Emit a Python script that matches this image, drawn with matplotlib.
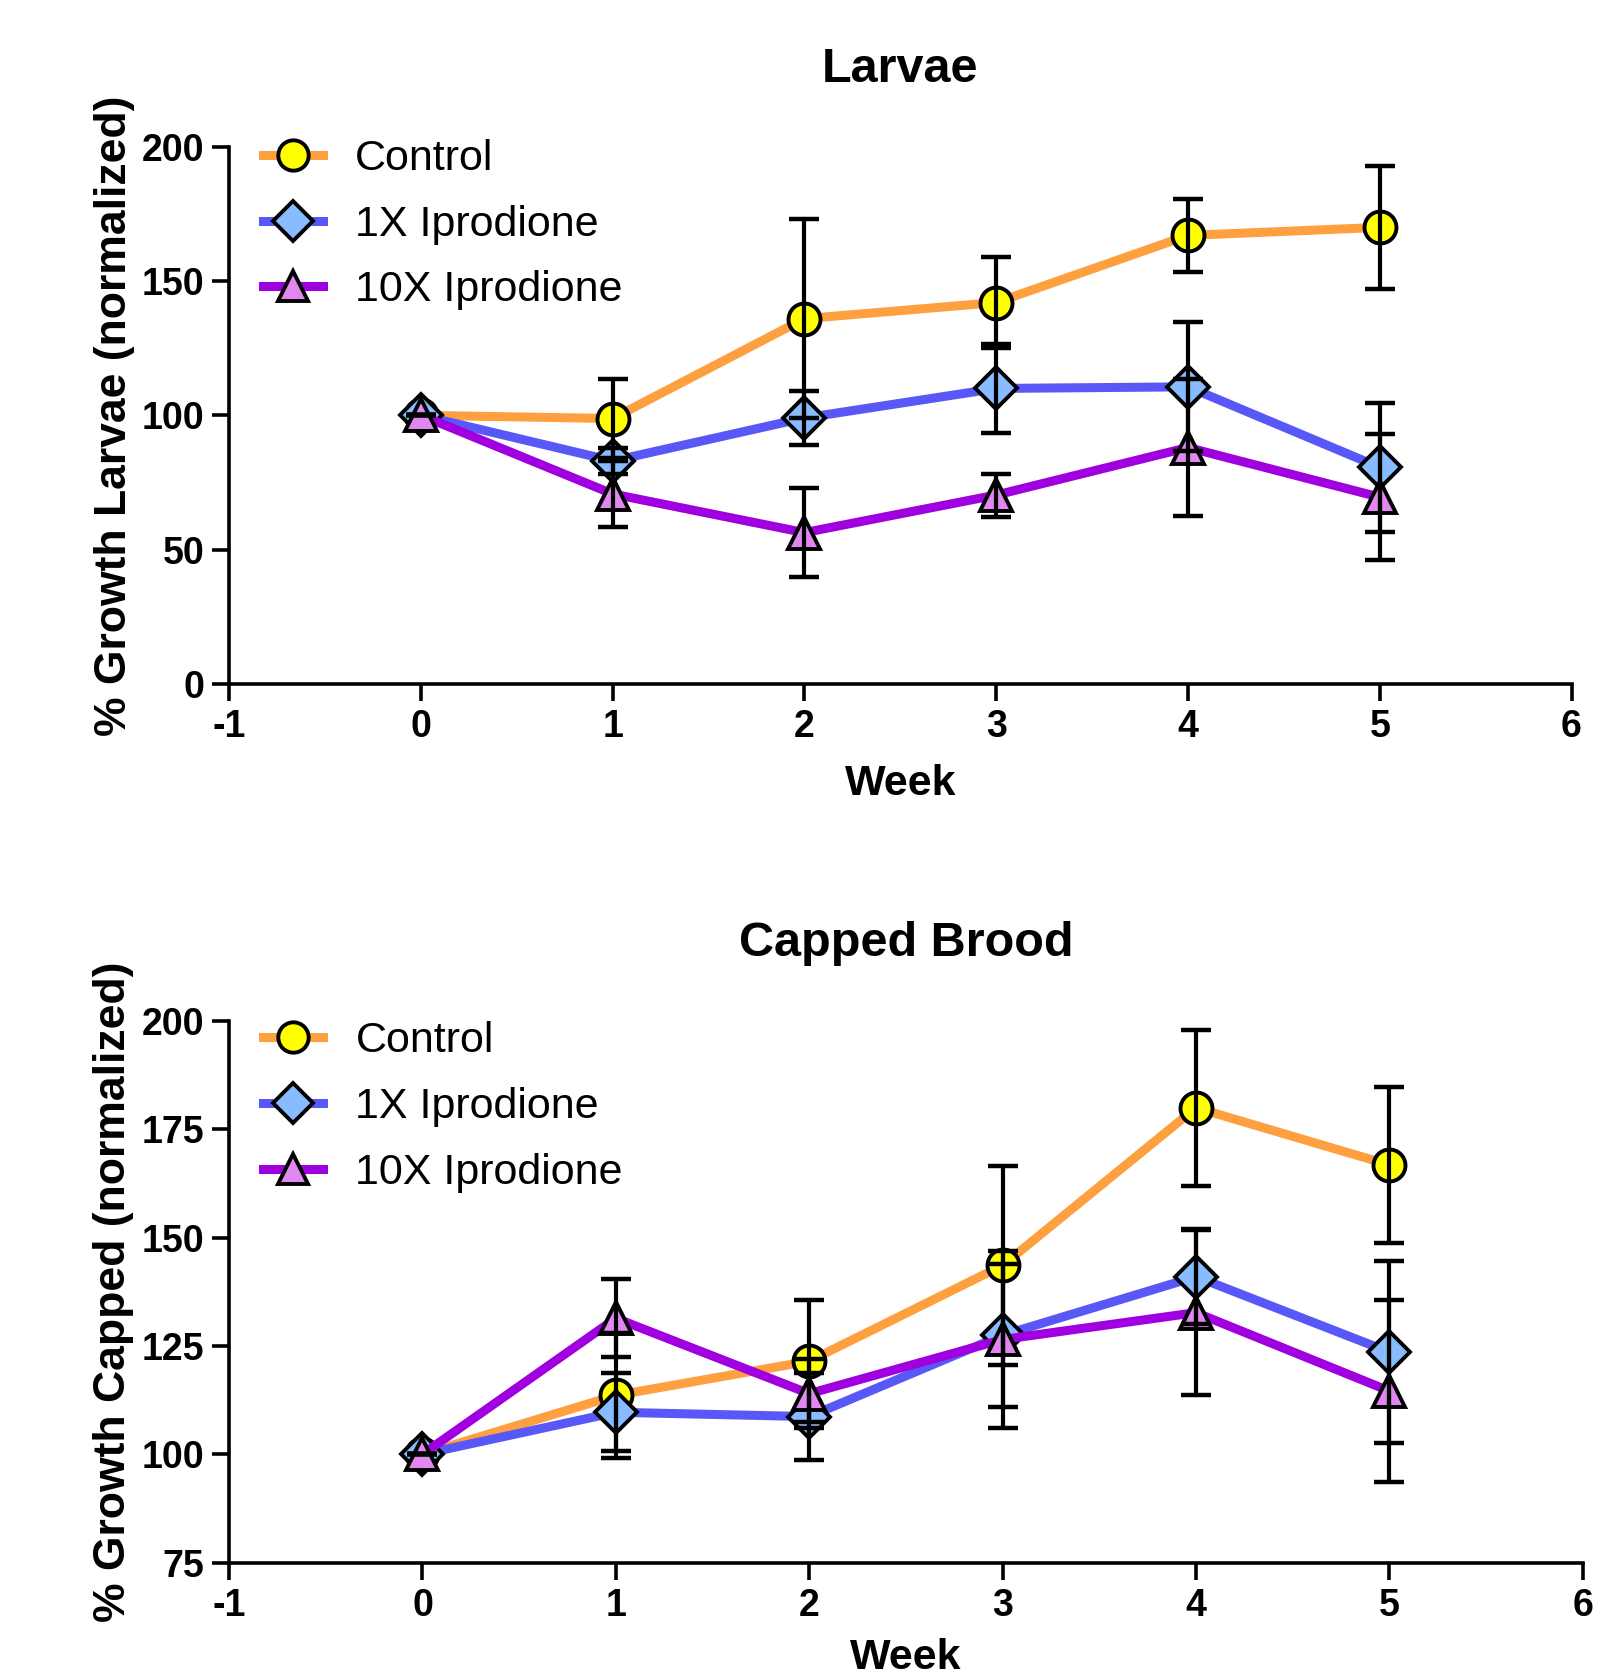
import numpy as np
import matplotlib
matplotlib.use("Agg")
import matplotlib.pyplot as plt

plt.rcParams['font.family'] = ['Liberation Sans', 'DejaVu Sans']
plt.rcParams['axes.unicode_minus'] = False

weeks = [0, 1, 2, 3, 4, 5]
series = ['Control', '1X Iprodione', '10X Iprodione']

# Larvae (% growth, normalized) and SEM
larvae_control = [100, 98.8, 136, 142, 167, 170]
larvae_control_err = [0, 14.6, 37, 17, 13.5, 23]
larvae_1x = [100, 83, 99, 110, 110.6, 80.6]
larvae_1x_err = [0, 5, 10.2, 16.5, 24, 24]
larvae_10x = [100, 70.7, 56.3, 70.3, 88, 69.5]
larvae_10x_err = [0, 12.4, 16.7, 8, 25.5, 23.5]

# Capped brood
capped_control = [100, 113.6, 121.5, 143.6, 180, 166.8]
capped_control_err = [0, 14.5, 14, 23, 18, 18]
capped_1x = [100, 109.7, 108.7, 127.5, 141, 123.6]
capped_1x_err = [0, 9, 10, 16.5, 11, 21]
capped_10x = [100, 131.4, 114, 126.5, 132.7, 114.6]
capped_10x_err = [0, 9, 8, 20.5, 19, 21]

line_colors = ['#FFA040', '#5858F8', '#A000E0']
face_colors = ['#FFFF00', '#88BBFF', '#E088F0']
markers = ['o', 'D', '^']
msizes = [23, 21, 23]

fig = plt.figure(figsize=(16.02, 16.8), dpi=100)
ax1 = fig.add_axes([0.143, 0.593, 0.838, 0.3196])
ax2 = fig.add_axes([0.143, 0.0699, 0.845, 0.3223])


def draw(ax, data, errs, title, ylabel, ylim, yticks, label_y, leg_y):
    handles = []
    for i, (vals, err) in enumerate(zip(data, errs)):
        h, = ax.plot(weeks, vals, color=line_colors[i], lw=6.5, marker=markers[i],
                     ms=msizes[i], mfc=face_colors[i], mec='black', mew=2.8,
                     zorder=3 + i, label=series[i])
        handles.append(h)
    for i, (vals, err) in enumerate(zip(data, errs)):
        ax.errorbar(weeks, vals, yerr=err, fmt='none', ecolor='black',
                    elinewidth=3, capsize=11, capthick=3.2, zorder=7)
    ax.set_xlim(-1, 6)
    ax.set_ylim(*ylim)
    ax.set_xticks(range(-1, 7))
    ax.set_yticks(yticks)
    for s in ['top', 'right']:
        ax.spines[s].set_visible(False)
    for s in ['left', 'bottom']:
        ax.spines[s].set_linewidth(2.6)
    ax.tick_params(width=2.6, length=12, labelsize=27, pad=6)
    for lab in ax.get_xticklabels() + ax.get_yticklabels():
        lab.set_fontweight('bold')
    ax.set_title(title, fontsize=35, fontweight='bold', pad=47)
    ax.set_xlabel('Week', fontsize=31, fontweight='bold')
    ax.xaxis.set_label_coords(0.5, label_y)
    ax.set_ylabel(ylabel, fontsize=32, fontweight='bold')
    ax.yaxis.set_label_coords(-0.07, 0.5)
    ax.legend(handles=handles, loc='upper left', bbox_to_anchor=(0.025, leg_y),
              frameon=False, fontsize=31, handlelength=1.4, handletextpad=0.75,
              labelspacing=0.6, borderpad=0, borderaxespad=0, markerscale=0.95)


draw(ax1, [larvae_control, larvae_1x, larvae_10x],
     [larvae_control_err, larvae_1x_err, larvae_10x_err],
     'Larvae', '% Growth Larvae (normalized)', (0, 200), [0, 50, 100, 150, 200], -0.15, 1.015)
draw(ax2, [capped_control, capped_1x, capped_10x],
     [capped_control_err, capped_1x_err, capped_10x_err],
     'Capped Brood', '% Growth Capped (normalized)', (75, 200), [75, 100, 125, 150, 175, 200], -0.14, 1.0)

fig.savefig('out.png', dpi=100)
